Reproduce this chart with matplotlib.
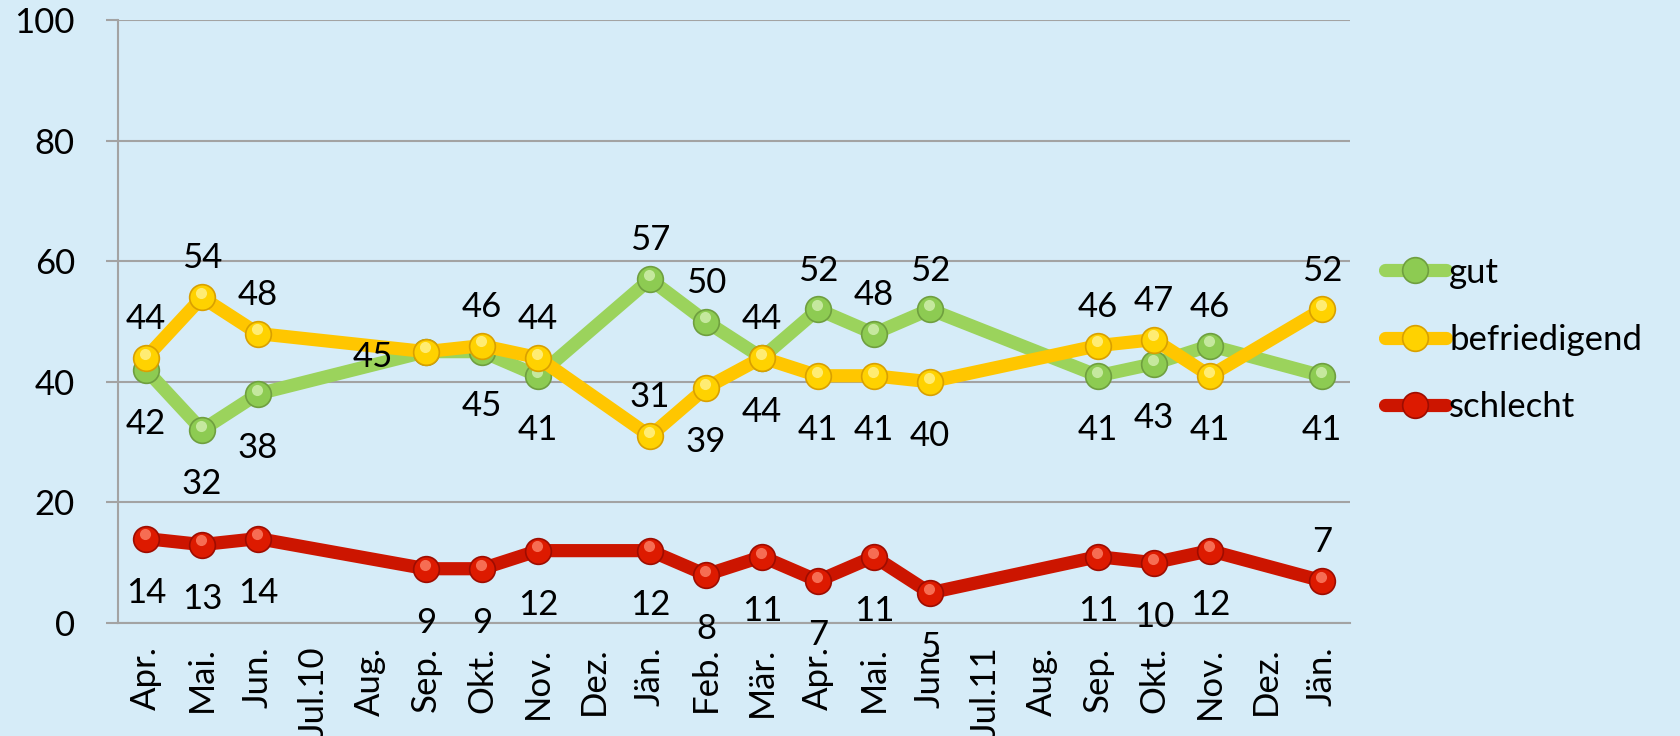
import numpy as np
import matplotlib
matplotlib.use("Agg")
import matplotlib.pyplot as plt
from matplotlib import transforms

# months on the category axis
months = ["Apr.", "Mai.", "Jun.", "Jul.10", "Aug.", "Sep.", "Okt.", "Nov.", "Dez.",
          "Jän.", "Feb.", "Mär.", "Apr.", "Mai.", "Jun.", "Jul.11", "Aug.", "Sep.",
          "Okt.", "Nov.", "Dez.", "Jän."]

nan = np.nan
gut = [42, 32, 38, nan, nan, 45, 45, 41, nan, 57, 50, 44, 52, 48, 52, nan, nan, 41, 43, 46, nan, 41]
befriedigend = [44, 54, 48, nan, nan, 45, 46, 44, nan, 31, 39, 44, 41, 41, 40, nan, nan, 46, 47, 41, nan, 52]
schlecht = [14, 13, 14, nan, nan, 9, 9, 12, nan, 12, 8, 11, 7, 11, 5, nan, nan, 11, 10, 12, nan, 7]

# where each data label sits: a = above, b = below, l = left, "" = no label
gut_pos = ["b", "b", "b", "", "", "l", "b", "b", "", "a", "a", "a", "a", "a", "a", "", "", "b", "b", "a", "", "b"]
bef_pos = ["a", "a", "a", "", "", "", "a", "a", "", "a", "b", "b", "b", "b", "b", "", "", "a", "a", "b", "", "a"]
sch_pos = ["b", "b", "b", "", "", "b", "b", "b", "", "b", "b", "b", "b", "b", "b", "", "", "b", "b", "b", "", "a"]

plt.rcParams["font.family"] = ["Lato", "DejaVu Sans"]

bg = "#D6ECF8"
grid_col = "#A3A3A3"

fig = plt.figure(figsize=(16.81, 7.36), dpi=100, facecolor=bg)
ax = fig.add_axes([118 / 1681, 113 / 736, (1350 - 118) / 1681, (623 - 20) / 736])
ax.set_facecolor(bg)


def draw_series(values, positions, name, line_col, face_col, edge_col, shine_col, z):
    x = np.arange(len(values))
    y = np.array(values, dtype=float)
    ok = ~np.isnan(y)
    # line goes straight over the missing months
    line, = ax.plot(x[ok], y[ok], color=line_col, lw=9.5, solid_capstyle="round",
                    marker="o", ms=18.5, mfc=face_col, mec=edge_col, mew=1.2,
                    label=name, zorder=z)
    # small glossy spot on top of each marker
    shine = transforms.offset_copy(ax.transData, fig=fig, x=-1, y=3, units="points")
    ax.plot(x[ok], y[ok], ls="none", marker="o", ms=8, mfc=shine_col, mec="none",
            alpha=0.75, transform=shine, zorder=z + 0.1)

    for xi, yi, p in zip(x, y, positions):
        if np.isnan(yi) or p == "":
            continue
        if p == "a":
            off = (0, 28)
        elif p == "b":
            off = (0, -39)
        else:
            off = (-38, -4)
        ax.annotate(f"{int(yi)}", (xi, yi), xytext=off, textcoords="offset points",
                    ha="center", va="center", fontsize=25, color="black", zorder=10)
    return line


h1 = draw_series(gut, gut_pos, "gut", "#9BD35C", "#8DCB52", "#6F9F3F", "#D8F3B8", 3)
h2 = draw_series(befriedigend, bef_pos, "befriedigend", "#FFC600", "#FFD200", "#D9A000", "#FFF59A", 4)
h3 = draw_series(schlecht, sch_pos, "schlecht", "#CC1500", "#DD1A00", "#9E0C00", "#FF8A70", 5)

ax.set_ylim(0, 100)
ax.set_yticks(range(0, 101, 20))
ax.set_xlim(-0.5, len(months) - 0.5)
ax.set_xticks(range(len(months)))
ax.set_xticklabels(months, rotation=90, fontsize=25)
ax.tick_params(axis="x", length=0, pad=17)
ax.tick_params(axis="y", length=9, width=1.5, color=grid_col, pad=22, labelsize=25)
ax.yaxis.grid(True, color=grid_col, lw=1.5)
ax.set_axisbelow(True)

for s in ["top", "right"]:
    ax.spines[s].set_visible(False)
for s in ["left", "bottom"]:
    ax.spines[s].set_color(grid_col)
    ax.spines[s].set_linewidth(1.5)

leg = fig.legend(handles=[h1, h2, h3], loc="center left",
                 bbox_to_anchor=(1385 / 1681, (736 - 340) / 736),
                 frameon=False, fontsize=25, handlelength=1.75, handletextpad=0.1,
                 labelspacing=1.02, borderpad=0, borderaxespad=0, numpoints=1)

fig.savefig("out.png", dpi=100, facecolor=bg)
